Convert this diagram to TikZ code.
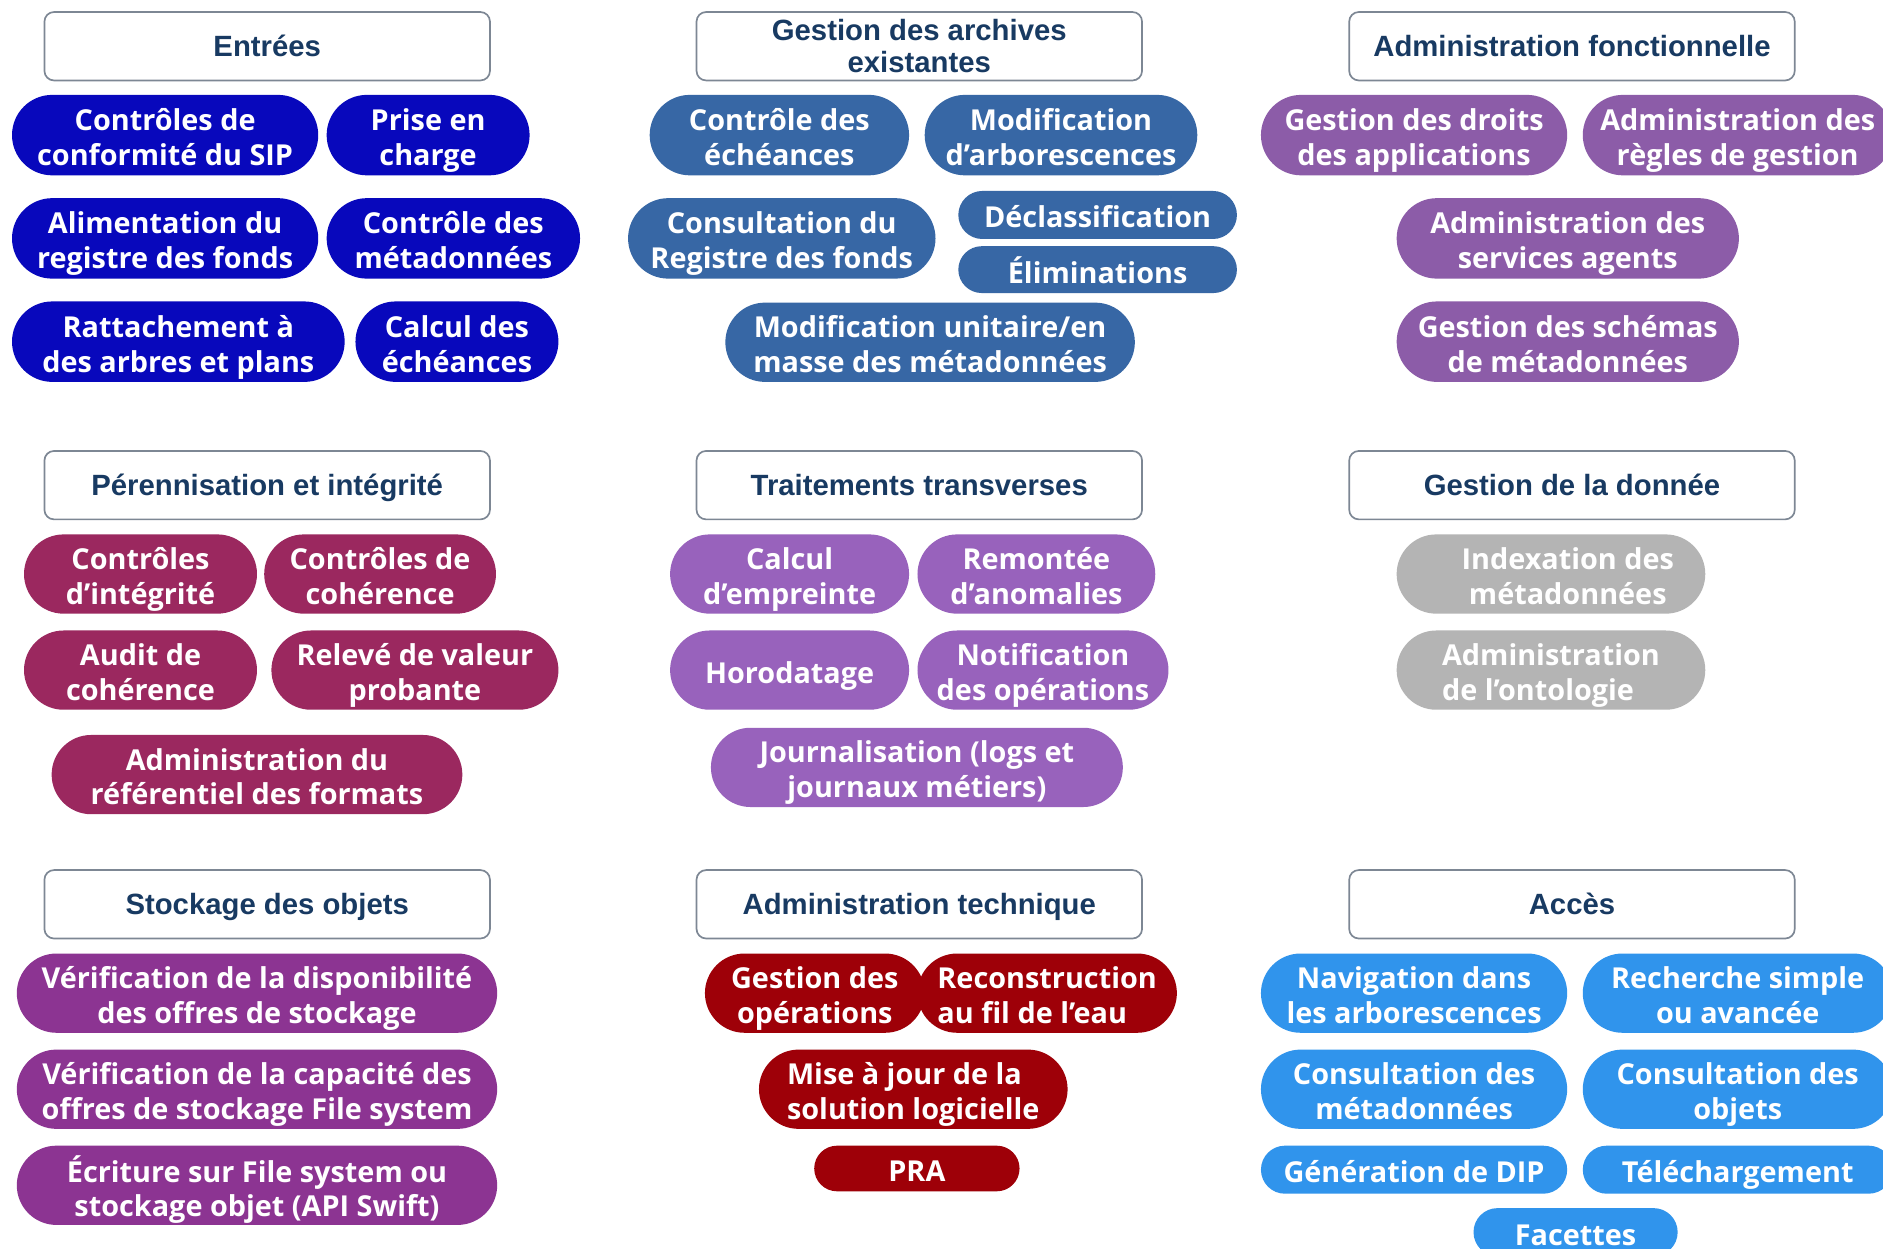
\documentclass[tikz,border=0pt]{standalone}
\usepackage{fontspec}
\setmainfont{Open Sans}
\newfontfamily\hdrfamily{Liberation Sans}
\definecolor{cEnt}{RGB}{8,8,188}
\definecolor{cArc}{RGB}{55,103,165}
\definecolor{cFon}{RGB}{140,92,168}
\definecolor{cPer}{RGB}{155,40,95}
\definecolor{cTra}{RGB}{152,98,188}
\definecolor{cDon}{RGB}{180,180,180}
\definecolor{cSto}{RGB}{140,52,146}
\definecolor{cTec}{RGB}{158,0,8}
\definecolor{cAcc}{RGB}{48,148,236}
\definecolor{cHdr}{RGB}{24,58,98}
\definecolor{cHdrLine}{RGB}{125,135,148}
\newcommand\pillfont{\fontsize{12}{14.5}\selectfont\bfseries}
\newcommand\hdrfont{\hdrfamily\bfseries\fontsize{12.2}{13.5}\selectfont}
% text blocks with fixed line struts so every pill centres alike
\newcommand\tx[1]{\raisebox{-2.5pt}[\height][\depth]{\begin{tabular}{@{}c@{}}#1\end{tabular}}}
\newcommand\txl[1]{\raisebox{-2.5pt}[\height][\depth]{\begin{tabular}{@{}l@{}}#1\end{tabular}}}
\newcommand\hx[1]{\raisebox{-1.5pt}[\height][\depth]{\begin{tabular}{@{}c@{}}#1\end{tabular}}}
\tikzset{
  pill/.style n args={3}{fill=#1, draw=none, text=white, font=\pillfont,
    inner sep=0pt, minimum width=#2*0.5pt, minimum height=#3*0.5pt, rounded corners=#3*0.25pt},
  hdr/.style={draw=cHdrLine, line width=0.7pt, fill=white, text=cHdr, font=\hdrfont,
    inner sep=0pt, minimum width=185.5pt, minimum height=28.5pt, rounded corners=4pt},
}
\begin{document}
\begin{tikzpicture}[x=0.5pt,y=-0.5pt]
\useasboundingbox (0,0) rectangle (1568,1040);
\fill[white] (0,0) rectangle (1568,1040);
\clip (0,0) rectangle (1568,1040);
% headers
\node[hdr] (h1) at (222.5,38.5) {\hx{Entrées}};
\node[hdr] (h2) at (765.5,38.5) {\hx{Gestion des archives\\existantes}};
\node[hdr] (h3) at (1309,38.5) {\hx{Administration fonctionnelle}};
\node[hdr] (h4) at (222.5,404) {\hx{Pérennisation et intégrité}};
\node[hdr] (h5) at (765.5,404) {\hx{Traitements transverses}};
\node[hdr] (h6) at (1309,404) {\hx{Gestion de la donnée}};
\node[hdr] (h7) at (222.5,753) {\hx{Stockage des objets}};
\node[hdr] (h8) at (765.5,753) {\hx{Administration technique}};
\node[hdr] (h9) at (1309,753) {\hx{Accès}};
% Entrees
\node[pill={cEnt}{255}{67}] (e1) at (137.5,112.5) {\tx{Contrôles de\\conformité du SIP}};
\node[pill={cEnt}{169}{67}] (e2) at (356.5,112.5) {\tx{Prise en\\charge}};
\node[pill={cEnt}{255}{67}] (e3) at (137.5,198.5) {\tx{Alimentation du\\registre des fonds}};
\node[pill={cEnt}{211}{67}] (e4) at (377.5,198.5) {\tx{Contrôle des\\métadonnées}};
\node[pill={cEnt}{277}{67}] (e5) at (148.5,284.5) {\tx{Rattachement à\\des arbres et plans}};
\node[pill={cEnt}{169}{67}] (e6) at (380.5,284.5) {\tx{Calcul des\\échéances}};
% Archives
\node[pill={cArc}{216}{67}] (a1) at (649,112.5) {\tx{Contrôle des\\échéances}};
\node[pill={cArc}{227}{67}] (a2) at (883.5,112.5) {\tx{Modification\\d’arborescences}};
\node[pill={cArc}{256}{67}] (a3) at (651,198.5) {\tx{Consultation du\\Registre des fonds}};
\node[pill={cArc}{232}{40}] (a4) at (914,179) {\tx{Déclassification}};
\node[pill={cArc}{232}{39}] (a5) at (914,224.5) {\tx{Éliminations}};
\node[pill={cArc}{341}{66}] (a6) at (774.5,285) {\tx{Modification unitaire/en\\masse des métadonnées}};
% Administration fonctionnelle
\node[pill={cFon}{255}{67}] (f1) at (1177.5,112.5) {\tx{Gestion des droits\\des applications}};
\node[pill={cFon}{258}{67}] (f2) at (1447,112.5) {\tx{Administration des\\règles de gestion}};
\node[pill={cFon}{285}{67}] (f3) at (1305.5,198.5) {\tx{Administration des\\services agents}};
\node[pill={cFon}{285}{67}] (f4) at (1305.5,284.5) {\tx{Gestion des schémas\\de métadonnées}};
% Perennisation
\node[pill={cPer}{194}{66}] (p1) at (117,478) {\tx{Contrôles\\d’intégrité}};
\node[pill={cPer}{193}{66}] (p2) at (316.5,478) {\tx{Contrôles de\\cohérence}};
\node[pill={cPer}{194}{66}] (p3) at (117,558) {\tx{Audit de\\cohérence}};
\node[pill={cPer}{239}{66}] (p4) at (345.5,558) {\tx{Relevé de valeur\\probante}};
\node[pill={cPer}{342}{66}] (p5) at (214,645) {\tx{Administration du\\référentiel des formats}};
% Traitements
\node[pill={cTra}{199}{66}] (t1) at (657.5,478) {\tx{Calcul\\d’empreinte}};
\node[pill={cTra}{198}{66}] (t2) at (863,478) {\tx{Remontée\\d’anomalies}};
\node[pill={cTra}{199}{66}] (t3) at (657.5,558) {\tx{Horodatage}};
\node[pill={cTra}{209}{66}] (t4) at (868.5,558) {\tx{Notification\\des opérations}};
\node[pill={cTra}{343}{66}] (t5) at (763.5,639) {\tx{Journalisation (logs et\\journaux métiers)}};
% Donnee
\node[pill={cDon}{257}{66}] (d1) at (1291.5,478) {\tx{\hspace*{14pt}Indexation des\\\hspace*{14pt}métadonnées}};
\node[pill={cDon}{257}{66}] (d2) at (1291.5,558) {\txl{Administration\\de l’ontologie}};
% Stockage
\node[pill={cSto}{400}{66}] (s1) at (214,827) {\tx{Vérification de la disponibilité\\des offres de stockage}};
\node[pill={cSto}{400}{66}] (s2) at (214,907) {\tx{Vérification de la capacité des\\offres de stockage File system}};
\node[pill={cSto}{400}{66}] (s3) at (214,987) {\tx{Écriture sur File system ou\\stockage objet (API Swift)}};
% Administration technique
\node[pill={cTec}{183}{66}] (r1) at (678.5,827) {\tx{Gestion des\\opérations}};
\node[pill={cTec}{216}{66}] (r2) at (872,827) {\txl{Reconstruction\\au fil de l’eau}};
\node[pill={cTec}{257}{66}] (r3) at (760.5,907) {\txl{Mise à jour de la\\solution logicielle}};
\node[pill={cTec}{171}{38}] (r4) at (763.5,973) {\tx{PRA}};
% Acces
\node[pill={cAcc}{255}{66}] (c1) at (1177.5,827) {\tx{Navigation dans\\les arborescences}};
\node[pill={cAcc}{258}{66}] (c2) at (1447,827) {\tx{Recherche simple\\ou avancée}};
\node[pill={cAcc}{255}{66}] (c3) at (1177.5,907) {\tx{Consultation des\\métadonnées}};
\node[pill={cAcc}{258}{66}] (c4) at (1447,907) {\tx{Consultation des\\objets}};
\node[pill={cAcc}{255}{40}] (c5) at (1177.5,974) {\tx{Génération de DIP}};
\node[pill={cAcc}{258}{40}] (c6) at (1447,974) {\tx{Téléchargement}};
\node[pill={cAcc}{170}{40}] (c7) at (1312,1026) {\tx{Facettes}};
\end{tikzpicture}
\end{document}
